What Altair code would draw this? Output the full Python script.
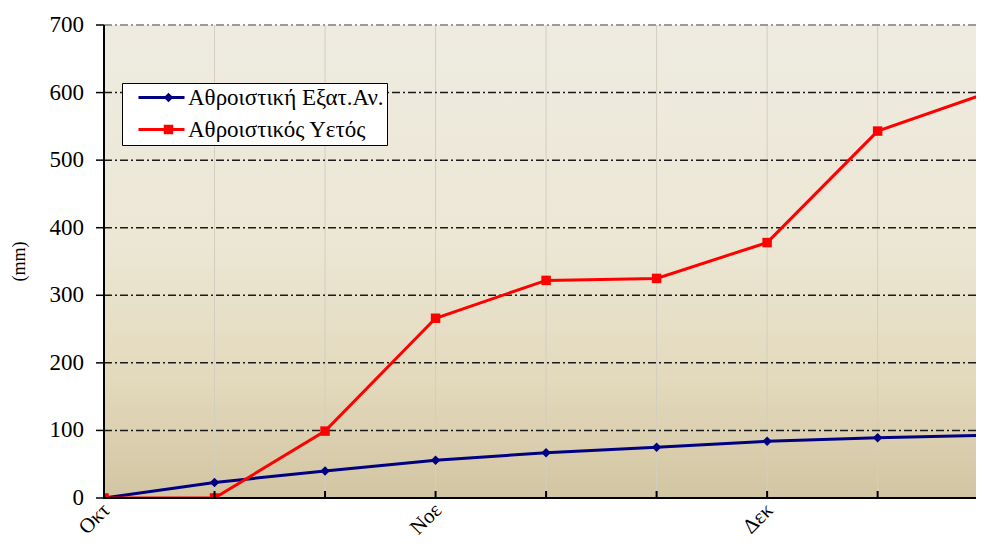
import altair as alt
import pandas as pd

# ---- data ----
x_idx = [0, 1, 2, 3, 4, 5, 6, 7, 8]
evap = [0, 23, 40, 56, 67, 75, 84, 89, 93]
rain = [0, 0, 99, 266, 322, 325, 378, 543, 600]
series = ["Αθροιστική Εξατ.Αν.", "Αθροιστικός Υετός"]
colors = ["#000080", "#FF0000"]
shapes = ["diamond", "square"]
month_ticks = [0, 3, 6]
month_labels = ["Οκτ", "Νοε", "Δεκ"]
y_ticks = [0, 100, 200, 300, 400, 500, 600, 700]
grid_y = [100, 200, 300, 400, 500, 600]
grid_top = [700]
grid_x = [1, 2, 3, 4, 5, 6, 7]
y_title = "(mm)"

FONT = "Liberation Serif, DejaVu Serif, serif"
W, H = 872, 473
XMAX = 7.89

df = pd.DataFrame({
    "x": x_idx + x_idx,
    "v": evap + rain,
    "s": [series[0]] * len(x_idx) + [series[1]] * len(x_idx),
})
gx = pd.DataFrame({"x": grid_x})
gy = pd.DataFrame({"y": grid_y})
gt = pd.DataFrame({"y": grid_top})
yt = pd.DataFrame({"t": y_ticks})
xt = pd.DataFrame({"t": month_ticks, "l": month_labels})
one = pd.DataFrame({"a": [0]})

xs = alt.Scale(domain=[0, XMAX], nice=False, zero=False)
ys = alt.Scale(domain=[0, 700], nice=False)
cs = alt.Scale(domain=series, range=colors)
fs = alt.Scale(range=colors)
ss = alt.Scale(range=shapes)

bg = alt.Chart(one).mark_rect(
    color=alt.LinearGradient(
        gradient="linear", x1=0, y1=0, x2=0, y2=1,
        stops=[
            alt.GradientStop(offset=0, color="#EEEBE1"),
            alt.GradientStop(offset=0.45, color="#ECE7D5"),
            alt.GradientStop(offset=0.75, color="#E3D9BC"),
            alt.GradientStop(offset=1, color="#D2C5A2"),
        ],
    )
).encode(x=alt.value(0), x2=alt.value(W), y=alt.value(0), y2=alt.value(H))

vgrid = alt.Chart(gx).mark_rule(color="#D3CEBF", strokeWidth=1).encode(
    x=alt.X("x:Q", scale=xs, axis=None)
)
hgrid = alt.Chart(gy).mark_rule(color="#1A1A1A", strokeWidth=1.5, strokeDash=[8, 3, 2, 3]).encode(
    y=alt.Y("y:Q", scale=ys, axis=None)
)
topline = alt.Chart(gt).mark_rule(color="#9A9A9A", strokeWidth=2, strokeDash=[8, 3, 2, 3]).encode(
    y=alt.Y("y:Q", scale=ys, axis=None)
)
xticks = alt.Chart(gx).mark_rule(color="black", strokeWidth=2).encode(
    x=alt.X("x:Q", scale=xs, axis=None), y=alt.value(H - 7), y2=alt.value(H)
)

# axis lines, ticks and labels
y_domain = alt.Chart(one).mark_rule(color="black", strokeWidth=2).encode(
    x=alt.value(0), y=alt.value(0), y2=alt.value(H + 1)
)
x_domain = alt.Chart(one).mark_rule(color="black", strokeWidth=2).encode(
    x=alt.value(-1), x2=alt.value(W), y=alt.value(H)
)
y_tick_marks = alt.Chart(yt).mark_rule(color="black", strokeWidth=1.5).encode(
    x=alt.value(-8), x2=alt.value(0), y=alt.Y("t:Q", scale=ys, axis=None)
)
y_labels = alt.Chart(yt).mark_text(
    align="right", baseline="middle", font=FONT, fontSize=23, color="black"
).encode(x=alt.value(-20), y=alt.Y("t:Q", scale=ys, axis=None), text="t:Q")
y_title_mark = alt.Chart(one).mark_text(
    angle=270, align="center", baseline="middle", font=FONT, fontSize=18, color="black"
).encode(x=alt.value(-84), y=alt.value(H / 2), text=alt.value(y_title))
x_labels = alt.Chart(xt).mark_text(
    angle=315, align="right", baseline="middle", font=FONT, fontSize=21, color="black", dx=4
).encode(x=alt.X("t:Q", scale=xs, axis=None), y=alt.value(H + 12), text="l:N")

common_leg = dict(
    title=None, orient="none", legendX=18, legendY=58, padding=3,
    clipHeight=23, rowPadding=8, labelFont=FONT, labelFontSize=23,
    labelColor="black", labelLimit=400,
)

lines = alt.Chart(df).mark_line(strokeWidth=3, clip=True).encode(
    x=alt.X("x:Q", scale=xs, axis=None),
    y=alt.Y("v:Q", scale=ys, axis=None),
    color=alt.Color("s:N", scale=cs, legend=alt.Legend(
        fillColor="white", strokeColor="black", zindex=1,
        symbolType="stroke", symbolSize=2116, symbolStrokeWidth=3,
        symbolOffset=12, labelOffset=2,
        **common_leg)),
    detail="s:N",
)

mk_leg = dict(
    strokeColor="transparent", zindex=2, labelOpacity=0,
    symbolSize=90, symbolStrokeWidth=0, symbolOffset=32, labelOffset=2,
    **common_leg,
)
points = alt.Chart(df).mark_point(filled=True, opacity=1, clip=True, size=90).encode(
    x=alt.X("x:Q", scale=xs, axis=None), y=alt.Y("v:Q", scale=ys, axis=None),
    fill=alt.Fill("s:N", scale=fs, legend=alt.Legend(**mk_leg)),
    shape=alt.Shape("s:N", scale=ss, legend=alt.Legend(**mk_leg)),
)

chart = alt.layer(
    bg, vgrid, hgrid, topline, lines, points, xticks,
    y_domain, x_domain, y_tick_marks, y_labels, y_title_mark, x_labels,
).properties(
    width=W, height=H,
    autosize=alt.AutoSizeParams(type="none"),
    padding={"left": 96, "top": 17, "right": 0, "bottom": 44},
).configure_view(stroke=None).configure_legend(strokeWidth=1)

chart.save("out.html", embed_options={"renderer": "svg", "actions": False})
